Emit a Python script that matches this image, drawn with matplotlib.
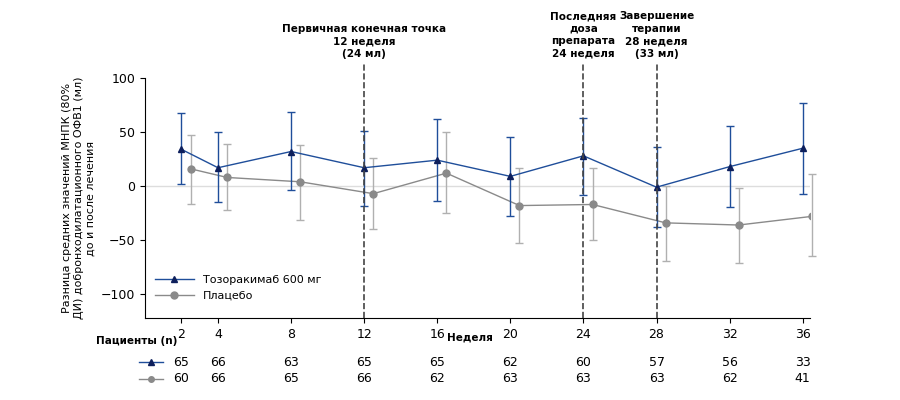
import matplotlib.pyplot as plt
from matplotlib.lines import Line2D
import numpy as np

plt.rcParams['font.family'] = ['DejaVu Sans']

weeks = [2, 4, 8, 12, 16, 20, 24, 28, 32, 36]
tozo_mean = [34, 17, 32, 17, 24, 9, 28, -1, 18, 35]
tozo_hi = [68, 50, 69, 51, 62, 45, 63, 36, 56, 77]
tozo_lo = [2, -15, -4, -18, -14, -28, -8, -38, -19, -7]
plac_mean = [16, 8, 4, -7, 12, -18, -17, -34, -36, -28]
plac_hi = [47, 39, 38, 26, 50, 17, 17, 0, -2, 11]
plac_lo = [-17, -22, -31, -40, -25, -53, -50, -69, -71, -65]
tozo_n = [65, 66, 63, 65, 65, 62, 60, 57, 56, 33]
plac_n = [60, 66, 65, 66, 62, 63, 63, 63, 62, 41]

markers = [
    (12, 'Первичная конечная точка\n12 неделя\n(24 мл)'),
    (24, 'Последняя\nдоза\nпрепарата\n24 неделя'),
    (28, 'Завершение\nтерапии\n28 неделя\n(33 мл)'),
]

blue = '#1f4e9a'
navy = '#0d1f5c'
grey = '#8a8a8a'

fig = plt.figure(figsize=(9, 4), dpi=100)
ax = fig.add_axes([0.161, 0.205, 0.739, 0.6])

w = np.array(weeks, dtype=float)
tm, pm = np.array(tozo_mean), np.array(plac_mean)
ax.axhline(0, color='#dddddd', lw=1, zorder=0)
eb1 = ax.errorbar(w + 0.5, pm, yerr=[pm - np.array(plac_lo), np.array(plac_hi) - pm],
                  fmt='o-', color=grey, ecolor='#b0b0b0', ms=5, lw=1, capsize=3, zorder=2)
eb2 = ax.errorbar(w, tm, yerr=[tm - np.array(tozo_lo), np.array(tozo_hi) - tm],
                  fmt='^-', color=blue, mfc=navy, mec=navy, ecolor=blue, ms=5, lw=1,
                  capsize=3, zorder=3)
for eb in (eb1, eb2):
    for art in eb.lines[1] + eb.lines[2]:
        art.set_clip_on(False)

for x, txt in markers:
    ax.plot([x, x], [-122, 115], ls='--', color='#444444', lw=1.2, clip_on=False, zorder=4)
    ax.text(x, 118, txt, ha='center', va='bottom', fontsize=7.5, fontweight='bold',
            linespacing=1.3)

ax.set_xlim(0, 36.4)
ax.set_ylim(-122, 100)
ax.set_xticks(weeks)
ax.set_yticks([-100, -50, 0, 50, 100])
ax.tick_params(labelsize=9)
for s in ['top', 'right']:
    ax.spines[s].set_visible(False)
ax.set_ylabel('Разница средних значений МНПК (80%\nДИ) добронходилатационного ОФВ1 (мл)\nдо и после лечения',
              fontsize=8)
ax.text(17.8, -140, 'Неделя', ha='center', va='center', fontsize=7.5, fontweight='bold')
ax.text(-2.7, -143, 'Пациенты (n)', ha='left', va='center', fontsize=7.5,
        fontweight='bold', clip_on=False)

handles = [Line2D([], [], color=blue, marker='^', mfc=navy, mec=navy, ms=5, lw=1),
           Line2D([], [], color=grey, marker='o', ms=5, lw=1)]
ax.legend(handles, ['Тозоракимаб 600 мг', 'Плацебо'], loc='lower left', frameon=False,
          fontsize=8, bbox_to_anchor=(0.0, 0.03), handlelength=3.5)

for i, x in enumerate(weeks):
    ax.text(x, -163, str(tozo_n[i]), ha='center', va='center', fontsize=9, clip_on=False)
    ax.text(x, -178, str(plac_n[i]), ha='center', va='center', fontsize=9, clip_on=False)
ax.plot([-0.3, 1.0], [-163, -163], '-', color=blue, lw=1, clip_on=False)
ax.plot([0.35], [-163], '^', color=navy, ms=4, clip_on=False)
ax.plot([-0.3, 1.0], [-178, -178], '-', color=grey, lw=1, clip_on=False)
ax.plot([0.35], [-178], 'o', color=grey, ms=4, clip_on=False)

fig.savefig('out.png', dpi=100)
